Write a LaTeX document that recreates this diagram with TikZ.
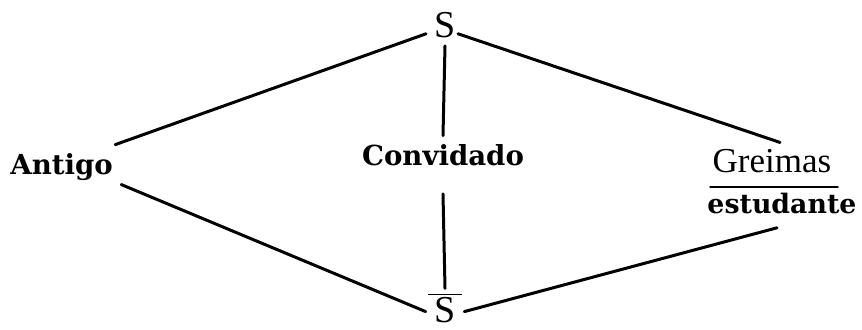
\documentclass[tikz,border=0pt]{standalone}
\usepackage{fontspec}
\setmainfont{Liberation Serif}
\newfontfamily\slabfont{DejaVu Serif}
\begin{document}
\begin{tikzpicture}[x=0.5pt,y=-0.5pt, line join=round, line cap=round,
	term/.style={font=\slabfont\bfseries\fontsize{13.8}{15}\selectfont, inner sep=1pt, anchor=base},
	sema/.style={font=\fontsize{19}{20}\selectfont, inner sep=1pt, anchor=base},
	side/.style={line width=1.5pt}]
	\useasboundingbox (0,0) rectangle (862,329);
	\node[sema] (S) at (445,37) {S};
	\node[sema] (Sbar) at (445,322) {$\overline{\mbox{\,S\,}}$};
	\node[term,anchor=base west] (antigo) at (8,174) {Antigo};
	\node[term] (conv) at (443,165) {Convidado};
	\node[inner sep=1pt, anchor=base, font=\fontsize{17.5}{18}\selectfont] (greimas) at (772,172) {Greimas};
	\node[term,font=\slabfont\bfseries\fontsize{13.4}{15}\selectfont] (estud) at (782,213) {estudante};
	\draw[line width=1.2pt] ([yshift=1.5pt]estud.north -| greimas.west) -- ([yshift=1.5pt,xshift=2pt]estud.north -| greimas.east);
	% lados do quadrado
	\draw[side] ([xshift=-3pt,yshift=3pt]S.south west) -- ([yshift=3pt]antigo.north east);
	\draw[side] ([yshift=3pt]S.south east) -- ([xshift=4pt,yshift=2pt]greimas.north);
	\draw[side] ([xshift=0pt,yshift=-2pt]Sbar.west) -- ([xshift=3pt,yshift=-1pt]antigo.south east);
	\draw[side] ([xshift=0pt,yshift=-2pt]Sbar.east) -- ([xshift=-2.5pt,yshift=-6pt]estud.south);
	% eixo
	\draw[side] ([yshift=-3pt]S.south) -- ([yshift=3pt]conv.north);
	\draw[side] ([yshift=-13pt]conv.south) -- ([yshift=1pt]Sbar.north);
\end{tikzpicture}
\end{document}
